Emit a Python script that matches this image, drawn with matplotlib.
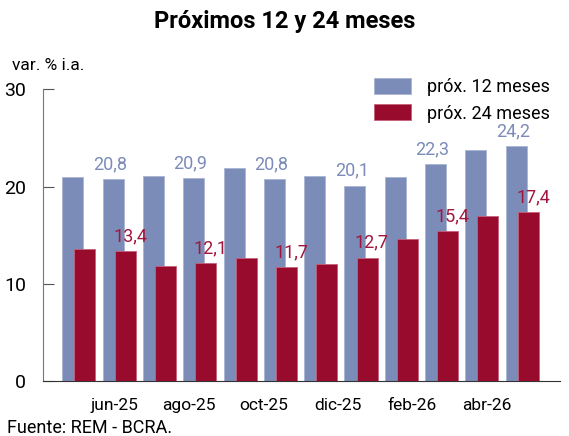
import matplotlib.pyplot as plt
import numpy as np

plt.rcParams['font.family'] = ['Roboto', 'DejaVu Sans']

meses = ['may-25', 'jun-25', 'jul-25', 'ago-25', 'sep-25', 'oct-25',
         'nov-25', 'dic-25', 'ene-26', 'feb-26', 'mar-26', 'abr-26']
prox_12 = [21.0, 20.8, 21.1, 20.9, 21.9, 20.8, 21.1, 20.1, 21.0, 22.3, 23.8, 24.2]
prox_24 = [13.6, 13.4, 11.8, 12.1, 12.7, 11.7, 12.0, 12.7, 14.6, 15.4, 17.0, 17.4]
etiquetas = ['jun-25', 'ago-25', 'oct-25', 'dic-25', 'feb-26', 'abr-26']

azul = '#7b8cb8'
rojo = '#990b2d'

fig = plt.figure(figsize=(5.69, 4.36), dpi=100)
ax = fig.add_axes([0.0756, 0.126, 0.908, 0.669])

x = np.arange(len(meses))
w = 0.52
ax.bar(x, prox_12, w, color=azul, edgecolor='#aab5d3', linewidth=0.6, label='próx. 12 meses', zorder=2)
ax.bar(x + 0.3, prox_24, w, color=rojo, edgecolor='#c5607a', linewidth=0.6, label='próx. 24 meses', zorder=3)

# valores en meses impares
for i in range(1, len(meses), 2):
    ax.text(x[i] - 0.08, prox_12[i] + 0.6, f'{prox_12[i]:.1f}'.replace('.', ','),
            ha='center', va='bottom', color=azul, fontsize=13, zorder=4)
    ax.text(x[i] + 0.42, prox_24[i] + 0.6, f'{prox_24[i]:.1f}'.replace('.', ','),
            ha='center', va='bottom', color='#a3163c', fontsize=13, zorder=4)

ax.set_ylim(0, 30)
ax.set_xlim(-0.74, 12.08)
ax.set_yticks([0, 10, 20, 30])
ax.tick_params(axis='y', direction='in', length=8, width=0.8, color='#555555',
               labelsize=14, pad=12)

# marcas en meses impares, etiquetas aparte
ax.set_xticks(x[1::2] + 0.3)
ax.set_xticklabels([])
ax.tick_params(axis='x', direction='in', length=7, width=0.8, color='#333333')
ax.set_xticks(1.03 + 1.85 * np.arange(len(etiquetas)), minor=True)
ax.set_xticklabels(etiquetas, minor=True, fontsize=12.5)
ax.tick_params(axis='x', which='minor', length=0, pad=12)

for s in ['top', 'right']:
    ax.spines[s].set_visible(False)
ax.spines['left'].set_color('#777777')
ax.spines['bottom'].set_color('#333333')

ax.legend(loc='upper right', bbox_to_anchor=(1.012, 1.095), frameon=False, fontsize=13,
          handlelength=2.05, handleheight=1.0, handletextpad=0.85, labelspacing=0.45)

fig.text(0.5, 0.95, 'Próximos 12 y 24 meses', ha='center', va='center',
         fontsize=17, fontweight='bold')
fig.text(0.021, 0.85, 'var. % i.a.', ha='left', va='center', fontsize=12.5)
fig.text(0.012, 0.018, 'Fuente: REM - BCRA.', ha='left', va='center', fontsize=13)

fig.savefig('out.png', dpi=100)
